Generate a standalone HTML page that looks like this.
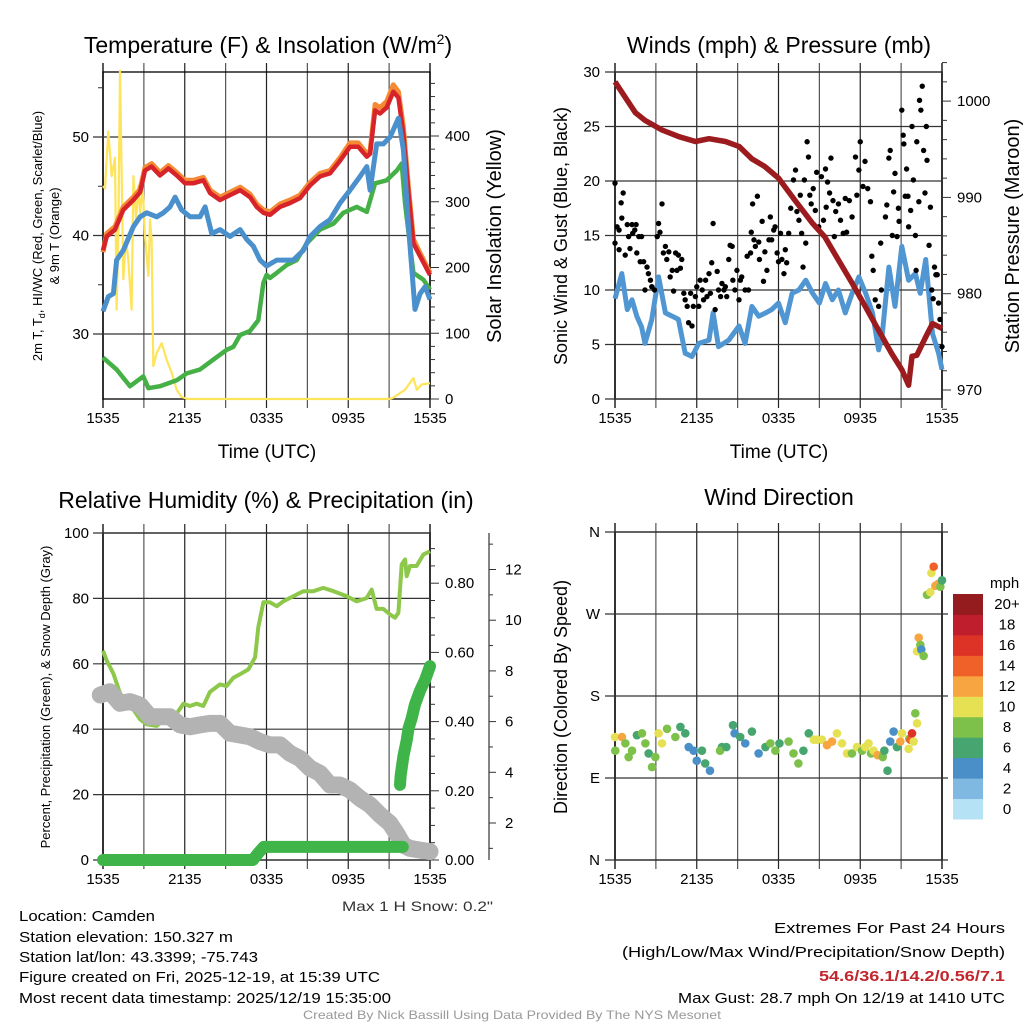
<!DOCTYPE html>
<html><head><meta charset="utf-8"><style>
html,body{margin:0;padding:0;background:#fff}
svg{display:block;font-family:"Liberation Sans",sans-serif}
</style></head><body>
<svg id="fig" width="1024" height="1024" viewBox="0 0 1024 1024" xmlns="http://www.w3.org/2000/svg">
<rect x="0" y="0" width="1024" height="1024" fill="#fff"/>
<g id="p1"></g>
<g id="p2"></g>
<g id="p3"></g>
<g id="p4"></g>

<text x="268" y="53" font-size="23" text-anchor="middle">Temperature (F) &amp; Insolation (W/m<tspan font-size="14" dy="-9">2</tspan><tspan dy="9">)</tspan></text>
<text x="779" y="53" font-size="23" text-anchor="middle">Winds (mph) &amp; Pressure (mb)</text>
<text x="266" y="508" font-size="23" text-anchor="middle">Relative Humidity (%) &amp; Precipitation (in)</text>
<text x="779" y="505" font-size="23" text-anchor="middle">Wind Direction</text>

<text x="267" y="458" font-size="19" text-anchor="middle">Time (UTC)</text>
<text x="779" y="458" font-size="19" text-anchor="middle">Time (UTC)</text>

<text transform="translate(42,236) rotate(-90)" font-size="13" text-anchor="middle">2m T, T<tspan font-size="9" dy="3">d</tspan><tspan dy="-3">, HI/WC (Red, Green, Scarlet/Blue)</tspan></text>
<text transform="translate(59,236) rotate(-90)" font-size="13" text-anchor="middle">&amp; 9m T (Orange)</text>
<text transform="translate(501,236) rotate(-90)" font-size="20" text-anchor="middle">Solar Insolation (Yellow)</text>
<text transform="translate(567,236) rotate(-90)" font-size="18" text-anchor="middle">Sonic Wind &amp; Gust (Blue, Black)</text>
<text transform="translate(1019,236) rotate(-90)" font-size="20" text-anchor="middle">Station Pressure (Maroon)</text>
<text transform="translate(50,697) rotate(-90)" font-size="13" text-anchor="middle">Percent, Precipitation (Green), &amp; Snow Depth (Gray)</text>
<text transform="translate(567,697) rotate(-90)" font-size="18" text-anchor="middle">Direction (Colored By Speed)</text>

<text x="493" y="911" font-size="14" text-anchor="end" fill="#333" textLength="151" lengthAdjust="spacingAndGlyphs">Max 1 H Snow: 0.2"</text>

<g font-size="15">
<text x="19" y="921" textLength="136" lengthAdjust="spacingAndGlyphs">Location: Camden</text>
<text x="19" y="942" textLength="214" lengthAdjust="spacingAndGlyphs">Station elevation: 150.327 m</text>
<text x="19" y="962" textLength="239" lengthAdjust="spacingAndGlyphs">Station lat/lon: 43.3399; -75.743</text>
<text x="19" y="982" textLength="361" lengthAdjust="spacingAndGlyphs">Figure created on Fri, 2025-12-19, at 15:39 UTC</text>
<text x="19" y="1003" textLength="372" lengthAdjust="spacingAndGlyphs">Most recent data timestamp: 2025/12/19 15:35:00</text>
</g>
<g font-size="15" text-anchor="end">
<text x="1005" y="933" textLength="231" lengthAdjust="spacingAndGlyphs">Extremes For Past 24 Hours</text>
<text x="1005" y="957" textLength="383" lengthAdjust="spacingAndGlyphs">(High/Low/Max Wind/Precipitation/Snow Depth)</text>
<text x="1005" y="981" fill="#c1272d" font-weight="bold" textLength="186" lengthAdjust="spacingAndGlyphs">54.6/36.1/14.2/0.56/7.1</text>
<text x="1005" y="1003" textLength="327" lengthAdjust="spacingAndGlyphs">Max Gust: 28.7 mph On 12/19 at 1410 UTC</text>
</g>
<text x="512" y="1019" font-size="12" fill="#999" text-anchor="middle" textLength="418" lengthAdjust="spacingAndGlyphs">Created By Nick Bassill Using Data Provided By The NYS Mesonet</text>
</svg>
<script>
// ---------- DATA ----------
var xTickLabels = ["1535","2135","0335","0935","1535"];
// Panel 1 (hours since 1535 UTC)
var tempHours = [0,0.27,0.88,1.49,2.23,2.72,3.08,3.57,4.18,4.80,5.41,6.02,6.63,7.37,7.86,8.59,9.32,10.06,10.79,11.28,11.77,12.26,12.99,13.73,14.46,15.20,15.93,16.66,17.40,18.13,18.74,19.36,19.60,19.97,20.33,20.82,21.31,21.68,22.05,22.42,22.78,23.27,24];
var redTemp = [38.5,39.9,40.6,42.6,43.6,44.4,46.6,47.0,46.1,46.8,46.1,45.3,45.3,45.6,44.3,43.6,44.1,44.6,43.9,42.9,42.3,42.1,42.9,43.3,43.8,45.1,46.0,46.3,47.6,49.0,49.0,48.0,48.3,52.7,52.4,53.0,54.6,54.0,50.3,44.3,39.2,37.9,36.0];
var orangeTemp = [38.3,40.2,40.9,42.9,43.9,44.7,46.9,47.3,46.4,47.1,46.4,45.6,45.6,45.9,44.6,43.9,44.4,44.9,44.2,43.2,42.6,42.4,43.2,43.6,44.1,45.4,46.3,46.6,47.9,49.4,49.4,48.3,48.6,53.3,53.0,53.6,55.3,54.6,51.0,44.8,39.6,38.2,36.2];
var blueHours = [0,0.39,0.76,1.0,1.49,2.23,2.72,3.21,3.94,4.43,4.92,5.29,5.77,6.39,7.12,7.49,7.98,8.59,9.32,10.06,10.55,11.04,11.53,12.01,12.75,13.48,13.97,14.71,15.20,15.93,16.66,17.40,18.13,18.87,19.36,19.60,20.09,20.58,21.07,21.68,22.05,22.42,22.90,23.27,23.64,24];
var blueTemp = [32.3,33.8,34.1,37.5,38.5,40.9,41.9,42.3,41.9,42.3,42.9,43.9,42.6,41.9,41.9,42.9,40.2,40.6,39.9,40.6,39.6,38.9,37.5,36.9,37.5,37.5,37.5,38.5,39.9,40.9,41.6,43.3,44.6,46.0,47.0,44.6,49.3,49.3,50.0,51.9,48.7,40.9,32.5,34.1,34.8,33.5];
var greenHours = [0,1.0,1.98,2.96,3.33,4.18,5.41,6.14,7.12,8.10,9.08,9.57,10.06,10.79,11.40,11.77,12.01,12.26,12.75,13.48,14.22,14.95,15.93,16.91,17.64,18.62,19.36,19.97,20.82,21.56,21.92,22.17,22.78,23.52,24];
var greenDew = [27.6,26.4,24.7,25.7,24.5,24.7,25.3,26.0,26.4,27.4,28.4,28.7,29.9,30.3,31.4,35.2,36.0,35.7,36.2,37.0,37.5,39.2,40.6,41.2,42.3,42.9,42.4,45.3,45.6,46.6,47.3,43.2,36.2,35.5,34.5];
var solarHours = [0,0.15,0.39,0.64,0.88,1.0,1.13,1.25,1.37,1.49,1.69,1.86,2.10,2.23,2.42,2.59,2.72,2.91,3.08,3.21,3.33,3.45,3.57,3.69,3.94,4.31,4.67,5.04,5.41,5.77,6.2,21.0,21.31,21.80,22.17,22.78,23.03,23.39,24];
var solarVals = [324,320,407,339,367,136,260,499,340,182,243,212,136,339,273,324,283,324,248,217,187,273,243,50,70,85,60,40,14,3,0,0,2,9,14,32,14,22,24];
var tempTicks = [30,40,50];
// Panel 2
var pressHours = [0,1.5,2.2,3.45,4.7,5.9,6.9,8.1,9.1,10.05,11,12,13.2,14.5,15.4,16.4,17.4,18.4,19.35,20.3,21.06,21.55,21.8,22.15,22.8,23.3,24];
var pressVals = [1002,998.8,998,997,996.3,995.8,996.1,995.8,995.3,994,993.2,992,989.7,987.3,985.9,983.5,981.1,978.6,976.2,973.8,972.1,970.5,973.5,973.6,975.5,976.9,976.4];
var windHours = [0,0.5,0.9,1.25,1.6,1.95,2.2,2.7,3.2,3.7,4.2,4.65,5.15,5.65,6.15,6.9,7.2,7.6,8.35,9.1,9.55,10.05,10.55,11.05,11.5,12,12.5,13,13.5,14,14.5,15,15.45,15.95,16.4,16.9,17.4,17.9,18.4,18.9,19.35,19.6,20.1,20.55,21.05,21.55,22.05,22.4,22.8,23.3,23.75,24];
var windVals = [9.2,11.5,8.2,9.1,7.6,6.6,5.1,7.3,11.2,7.9,7.6,7.3,4.2,3.9,5.1,5.4,7.9,4.8,5.4,6.7,5.1,8.5,7.6,7.9,8.2,8.8,7.0,9.7,10.0,10.9,9.7,8.8,10.6,9.1,10.0,7.9,9.7,11.2,9.7,7.9,4.5,5.7,12.1,8.5,14.0,10.9,11.5,9.7,12.8,6.0,4.2,2.7];
var gustHours = [0,0,0.15,0.3,0.3,0.45,0.6,0.5,0.75,0.9,1,1.1,1.25,1.3,1.45,1.55,1.6,1.75,1.85,1.95,2.1,2.2,2.35,2.45,2.6,2.7,2.9,3.1,3.2,3.3,3.45,3.55,3.7,3.8,3.95,4.05,4.2,4.3,4.45,4.55,4.65,4.8,4.9,5.05,5.15,5.3,5.4,5.55,5.65,5.75,5.9,6,6.15,6.25,6.4,6.5,6.65,6.75,6.9,7,7.1,7.2,7.35,7.5,7.6,7.75,7.85,8,8.1,8.2,8.35,8.45,8.6,8.65,8.8,8.95,9.1,9.2,9.3,9.55,9.7,9.8,9.95,10,10.1,10.2,10.3,10.45,10.55,10.6,10.8,10.9,11,11.15,11.3,11.4,11.5,11.65,11.75,11.9,12,12.15,12.25,12.4,12.5,12.6,12.75,12.9,13.1,13.25,13.35,13.5,13.6,13.7,13.8,13.9,14,14.1,14.2,14.3,14.4,14.55,14.7,14.8,14.95,15.15,15.3,15.45,15.5,15.6,15.75,15.85,16,16.1,16.2,16.4,16.55,16.75,16.9,17,17.2,17.4,17.65,17.75,17.9,18,18.2,18.35,18.55,18.75,18.85,18.95,19.1,19.35,19.55,19.5,19.85,19.95,20.1,20.2,20.35,20.45,20.55,20.7,20.8,20.85,21.05,21.15,21.2,21.3,21.4,21.5,21.55,21.7,21.8,21.9,22.05,22.1,22.15,22.3,22.35,22.45,22.55,22.65,22.75,22.85,22.9,23.05,23.15,23.25,23.35,23.45,23.55,23.65,23.75,23.85,24];
var gustVals = [19.8,14.3,15.8,15.5,13.7,18,18.9,16.6,13.2,16,14.9,13.8,16,15.2,15.5,16,13.4,14.9,12.6,14.9,12.6,10,12.1,11.5,10.9,10.3,10,14.9,16.1,15.3,17.9,13.4,14,12.8,13.5,11.2,11.8,9.9,13.4,11.8,13.2,12,12.8,9.7,9.1,8.5,7,9.7,6.7,8.5,9.4,10.3,8.5,10.9,10,9.1,10.9,9.4,11.5,9.7,12.5,16.1,8.2,11.7,10,9.4,10.6,10,10.3,9.4,12.8,14.1,14,10.9,10,11.8,9.1,10.9,11.2,10,13.1,10,13.4,15.3,17.9,14.6,14,18.6,14.4,12.8,16.3,10.8,13.5,11.8,14.6,16.7,14.6,15.5,15.8,13.4,12.6,15.2,12.8,11.5,13.7,12.5,15.2,17.5,20.1,21,17.2,16.4,18.7,15.2,12.1,20.1,14.3,23.6,22.2,18.7,17.9,19.3,17.3,20.8,15.8,20.4,16.4,21.1,17.6,19.9,18.9,22.1,18.2,14.9,17.2,17.9,16.4,15.2,18.4,15.3,18.2,16.7,22.2,18.7,21,23.6,19.5,21.8,19.3,18.1,13.1,11.8,9.1,8.5,10,14.3,16.7,17.8,22.1,22.8,15,19,20.7,14.9,17.5,16.3,26.5,24.2,23.4,18.6,21.1,18.6,15.8,17.3,25,20.1,15,11.8,23.6,18.1,27.4,26.5,28.7,22.8,18.9,25,21.9,14.1,17.6,10,9.2,12.1,11.4,11.4,8.8,7.3,4.8];
var windTicks = [0,5,10,15,20,25,30];
// Panel 3
var rhHours = [0,0.27,0.76,1.25,1.74,2.23,2.72,3.2,3.94,4.67,5.41,5.9,6.38,6.87,7.36,7.85,8.59,9.07,9.56,10.05,10.67,11.16,11.4,11.77,12.26,12.75,13.24,13.98,14.71,15.44,16.17,16.92,17.88,18.61,19.35,19.72,20.08,20.57,21.06,21.43,21.68,21.92,22.17,22.29,22.53,23.02,23.51,24];
var rhVals = [64,61,57,51,48,46,43,41.5,41,43.7,44.8,47.8,47.1,47.8,47.1,51.4,53.7,53.2,55.7,56.8,58.3,62,71.2,78.8,78.8,77.6,79.1,80.7,82.2,82.2,83.2,82.2,80.7,79.1,80.1,82.7,76.8,76.8,75.1,74.1,75.6,90.4,91.9,86.8,89.9,89.9,93.4,94.4];
var snowHours = [-0.2,0.51,1.25,1.98,2.72,3.45,4.18,4.92,5.65,6.39,7.12,7.85,8.59,9.32,10.06,10.79,11.52,12.26,12.99,13.72,14.46,15.19,15.93,16.66,17.39,18.13,18.86,19.6,20.33,21.06,21.55,22.04,22.53,23.27,24];
var snowDepth = [7.05,7.18,6.72,6.79,6.65,6.19,6.19,6.19,5.87,5.8,5.87,5.93,5.93,5.54,5.47,5.4,5.21,5.08,5.08,4.75,4.55,4.16,3.96,3.5,3.5,3.3,2.97,2.71,2.32,1.99,1.59,1.13,1.0,0.93,0.87];
var precipHoursEarly = [0,11.0,11.4,11.8,12.5,15,18,22.0];
var precipValsEarly = [0,0,0.02,0.038,0.038,0.038,0.038,0.038];
var precipHoursLate = [21.8,21.85,22.05,22.3,22.42,22.66,22.9,23.27,23.63,24];
var precipValsLate = [0.217,0.245,0.3,0.347,0.38,0.41,0.45,0.49,0.52,0.56];
var rhTicks = [0,20,40,60,80,100];
var precipTicks = ["0.00","0.20","0.40","0.60","0.80"];
var snowTicks = [2,4,6,8,10,12];
// Panel 4
var dirHours = [0,0.02,0.51,0.76,1.0,1.25,1.61,1.98,2.23,2.47,2.72,2.96,3.2,3.45,3.82,4.43,4.8,5.16,5.41,5.77,6.0,6.38,6.62,6.97,7.85,7.71,8.17,8.66,8.78,9.19,9.56,10.05,10.54,11.04,11.4,11.77,12.07,12.74,13.1,13.46,13.83,14.22,14.59,14.83,15.19,15.56,15.93,16.29,16.66,17.03,17.39,17.76,18.13,18.37,18.61,18.79,18.98,19.28,19.65,19.77,20.0,20.2,20.45,20.69,20.94,21.06,21.55,21.6,21.68,21.8,21.92,22.17,22.04,22.17,22.29,22.41,22.48,22.65,22.9,23.14,23.22,23.39,23.51,23.71,23.88,24.0];
var dirVals = [135,120,135,128,113,120,137,139,128,117,102,113,139,128,144,135,146,139,124,120,109,120,106,98,124,120,124,148,139,135,128,141,117,124,128,120,128,130,117,106,120,139,132,132,132,126,130,139,128,117,117,124,120,124,128,117,120,115,113,120,98,130,141,124,130,139,122,133,132,139,130,150,161,229,244,236,231,224,291,294,315,322,301,303,300,307,304,310,298,300,286];
var dirSpeed = [10,8,12,8,8,8,6,8,8,6,8,8,10,10,8,8,6,6,4,4,4,6,6,4,6,8,6,6,4,6,4,6,4,6,8,8,6,8,8,8,6,6,10,10,10,12,12,10,10,10,8,10,8,10,10,8,10,12,8,6,6,4,4,6,12,10,10,8,14,16,10,10,8,10,12,8,4,8,8,10,10,14,12,12,8,6,4,4,4,4,2];
var speedLabels = ["0","2","4","6","8","10","12","14","16","18","20+"];
var speedColors = ["#b6e2f6","#7fb8e0","#4a8fc8","#47a56f","#7dc14b","#e6e053","#f7a541","#ef6128","#dd3327","#bf1e2d","#941b1e"];
var dirTicks = ["N","E","S","W","N"];

// ---------- HELPERS ----------
var NS = "http://www.w3.org/2000/svg";
function mk(parent, tag, attrs){ var e=document.createElementNS(NS,tag); for(var k in attrs) e.setAttribute(k,attrs[k]); parent.appendChild(e); return e; }
function pathFrom(xs, ys, fx, fy){ var d=""; for(var i=0;i<xs.length;i++){ d+=(i?"L":"M")+fx(xs[i]).toFixed(1)+","+fy(ys[i]).toFixed(1);} return d; }
function xA(h){ return 103 + h*327/24; }
function xB(h){ return 615 + h*327/24; }

function frame(g, x0, y0, x1, y1, fx){
  for (var i=0;i<=8;i++){
    var x = fx(i*3);
    var v = mk(g,"line",{x1:x,y1:y0-9,x2:x,y2:y1+9,stroke:(i%2?"#555":"#222"),"stroke-width":(i==0||i==8)?1.5:1.2});
    
    
  }
  for (var j=0;j<5;j++){
    var t = mk(g,"text",{x:fx(j*6),y:y1+24,"font-size":15,"text-anchor":"middle"});
    t.textContent = xTickLabels[j];
    
    
  }
  var r = mk(g,"rect",{x:x0,y:y0,width:x1-x0,height:y1-y0,fill:"none",stroke:"#000","stroke-width":1.3});
  
  
}
function hgrid(g, x0, x1, y, label, lx, anchor){
  var l = mk(g,"line",{x1:x0,y1:y,x2:x1,y2:y,stroke:"#333","stroke-width":1.2});
  
  
  if (label!==null){
    var t = mk(g,"text",{x:lx,y:y+5,"font-size":15,"text-anchor":anchor});
    t.textContent = label;
    
    
  }
}
function rtick(g, x, y, len, label){
  var l = mk(g,"line",{x1:x,y1:y,x2:x+len,y2:y,stroke:"#333","stroke-width":1});
  
  
  if (label!==null){
    var t = mk(g,"text",{x:x+len+6,y:y+5,"font-size":15});
    t.textContent = label;
    
    
  }
}

// ---------- PANEL 1 ----------
(function(){
  var g = document.getElementById("p1");
  var yT = function(v){ return 137 + (50-v)*9.85; };
  var yS = function(v){ return 399 - v*0.6575; };
  frame(g,103,72,430,399,xA);
  tempTicks.forEach(function(v){ hgrid(g,93,430,yT(v),String(v),89,"end"); });
  [35,45,55].forEach(function(v){ var m=mk(g,"line",{x1:98,y1:yT(v),x2:103,y2:yT(v),stroke:"#333"});   });
  for (var s=0;s<=480;s+=20){ var isMaj = s%100==0; rtick(g,430,yS(s),isMaj?9:5,isMaj?String(s):null); }
  var y = mk(g,"path",{d:pathFrom(solarHours,solarVals,xA,yS),fill:"none",stroke:"#fde45a","stroke-width":2.2,"stroke-linejoin":"round"});
  
  
  var gr = mk(g,"path",{d:pathFrom(greenHours,greenDew,xA,yT),fill:"none",stroke:"#45b046","stroke-width":4.5,"stroke-linejoin":"round"});
  
  
  var o = mk(g,"path",{d:pathFrom(tempHours,orangeTemp,xA,yT),fill:"none",stroke:"#f58a34","stroke-width":5,"stroke-linejoin":"round"});
  
  
  var r = mk(g,"path",{d:pathFrom(tempHours,redTemp,xA,yT),fill:"none",stroke:"#d7232a","stroke-width":4.5,"stroke-linejoin":"round"});
  
  
  var b = mk(g,"path",{d:pathFrom(blueHours,blueTemp,xA,yT),fill:"none",stroke:"#4a90cc","stroke-width":5,"stroke-linejoin":"round"});
  
  
})();

// ---------- PANEL 2 ----------
(function(){
  var g = document.getElementById("p2");
  var yW = function(v){ return 399 - v*10.9; };
  var yP = function(v){ return 390 - (v-970)*9.63; };
  frame(g,615,72,942,399,xB);
  windTicks.forEach(function(v){ hgrid(g,605,942,yW(v),String(v),600,"end"); });
  for (var p=968;p<=1004;p+=2){ var isMaj = p%10==0; rtick(g,942,yP(p),isMaj?9:5,isMaj?String(p):null); }
  var b = mk(g,"path",{d:pathFrom(windHours,windVals,xB,yW),fill:"none",stroke:"#5096d2","stroke-width":5,"stroke-linejoin":"round"});
  
  
  for (var i=0;i<gustHours.length;i++){
    var c = mk(g,"circle",{cx:xB(gustHours[i]),cy:yW(gustVals[i]),r:2.7,fill:"#000"});
    
    
  }
  var p2 = mk(g,"path",{d:pathFrom(pressHours,pressVals,xB,yP),fill:"none",stroke:"#9b1b1e","stroke-width":5.5,"stroke-linejoin":"round"});
  
  
})();

// ---------- PANEL 3 ----------
(function(){
  var g = document.getElementById("p3");
  var yR = function(v){ return 860 - v*3.27; };
  var yPr = function(v){ return 860 - v*346; };
  var ySn = function(v){ return 873.7 - v*25.35; };
  frame(g,103,533,430,860,xA);
  rhTicks.forEach(function(v){ hgrid(g,93,430,yR(v),String(v),89,"end"); });
  for (var q=0;q<=0.94;q+=0.05){ var isMaj = Math.round(q*100)%20==0; var lab = isMaj ? precipTicks[Math.round(q*5)] : null; rtick(g,430,yPr(q),isMaj?9:5,lab===undefined?null:lab); }
  var sp = mk(g,"line",{x1:489,y1:533,x2:489,y2:860,stroke:"#333","stroke-width":1.2});
  
  
  for (var s=1;s<=13;s++){ var isMaj = s%2==0; var t=mk(g,"line",{x1:489,y1:ySn(s),x2:489+(isMaj?7:4),y2:ySn(s),stroke:"#333"});   }
  snowTicks.forEach(function(v){ var t=mk(g,"text",{x:505,y:ySn(v)+5,"font-size":15}); t.textContent=String(v);   });
  var rh = mk(g,"path",{d:pathFrom(rhHours,rhVals,xA,yR),fill:"none",stroke:"#8dc84a","stroke-width":4,"stroke-linejoin":"round"});
  
  
  var sn = mk(g,"path",{d:pathFrom(snowHours,snowDepth,xA,ySn),fill:"none",stroke:"#b3b3b3","stroke-width":17,"stroke-linejoin":"round","stroke-linecap":"round"});
  
  
  var pr = mk(g,"path",{d:pathFrom(precipHoursEarly,precipValsEarly,xA,yPr),fill:"none",stroke:"#3fb448","stroke-width":12,"stroke-linejoin":"round","stroke-linecap":"round"});
  
  
  var pr2 = mk(g,"path",{d:pathFrom(precipHoursLate,precipValsLate,xA,yPr),fill:"none",stroke:"#3fb448","stroke-width":12,"stroke-linejoin":"round","stroke-linecap":"round"});
  
  
})();

// ---------- PANEL 4 ----------
(function(){
  var g = document.getElementById("p4");
  var yD = function(v){ return 860 - v*328/360; };
  frame(g,615,532,942,860,xB);
  dirTicks.forEach(function(lab,i){ hgrid(g,605,948,yD(i*90),lab,600,"end"); });
  for (var i=0;i<dirHours.length;i++){
    var idx = Math.min(10, Math.floor(dirSpeed[i]/2));
    var c = mk(g,"circle",{cx:xB(dirHours[i]),cy:yD(dirVals[i]),r:4.3,fill:speedColors[idx]});
    
    
  }
  var h = 225/11;
  for (var k=0;k<11;k++){
    var yy = 594 + (10-k)*h;
    var rct = mk(g,"rect",{x:953,y:yy,width:30,height:h+0.5,fill:speedColors[k]});
    
    
    var t = mk(g,"text",{x:1007,y:yy+h/2+5,"font-size":15,"text-anchor":"middle"});
    t.textContent = speedLabels[k];
    
    
  }
  var u = mk(g,"text",{x:990,y:588,"font-size":15});
  u.textContent = "mph";
  
  
})();
</script>
</body></html>
